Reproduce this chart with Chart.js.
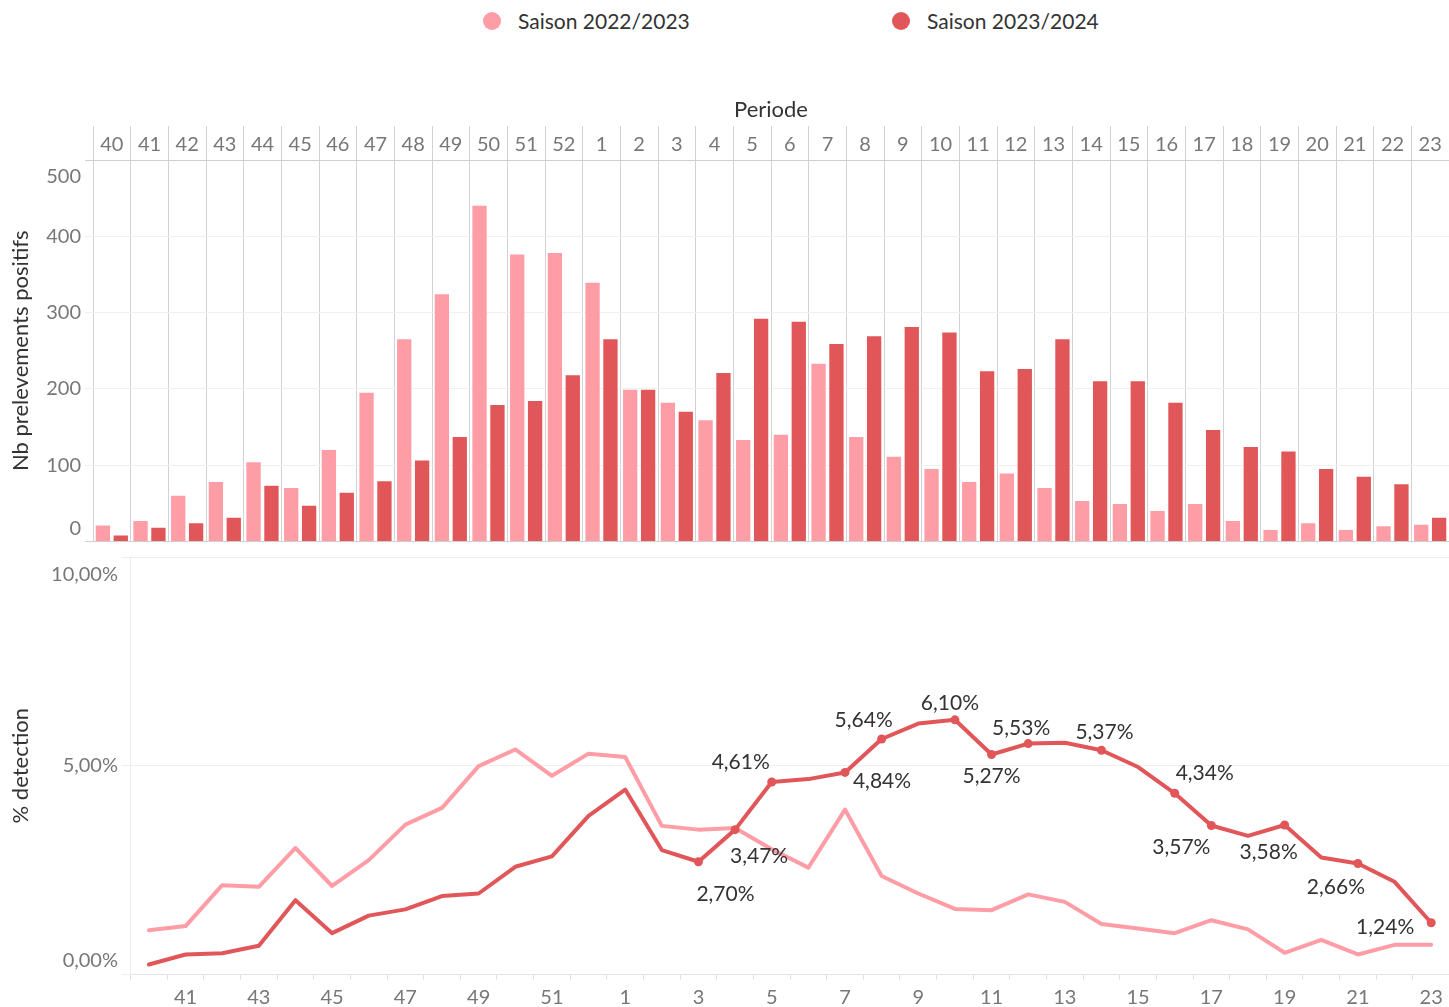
<!DOCTYPE html>
<html>
<head>
<meta charset="utf-8">
<script src="https://cdn.jsdelivr.net/npm/chart.js@4.4.1/dist/chart.umd.min.js"></script>
<style>
    body { margin: 0; width: 1449px; height: 1007px; overflow: hidden; background: #fff; font-family: Lato, sans-serif; position: relative; }
    #legende { position: absolute; top: 0; left: 0; width: 1449px; height: 44px; }
    .item { position: absolute; top: 8px; display: flex; align-items: center; font-size: 21px; color: #333; }
    .rond { width: 18px; height: 18px; border-radius: 50%; margin-right: 17px; }
    #barres { position: absolute; left: 0; top: 90px; }
    #lignes { position: absolute; left: 0; top: 512px; }
</style>
</head>
<body>
<div id="legende"></div>
<canvas id="barres" width="1449" height="492"></canvas>
<canvas id="lignes" width="1454" height="495"></canvas>
<script>
// Semaines (periodes)
const periodes = ['40','41','42','43','44','45','46','47','48','49','50','51','52',
    '1','2','3','4','5','6','7','8','9','10','11','12','13','14','15','16','17','18','19','20','21','22','23'];

const saisons = ['Saison 2022/2023', 'Saison 2023/2024'];
const couleurs = ['#ff9da7', '#e15759'];

// Nb prelevements positifs
const positifs2223 = [21, 27, 60, 78, 104, 70, 120, 195, 265, 324, 440, 376, 378,
    339, 199, 182, 159, 133, 140, 233, 137, 111, 95, 78, 89, 70, 53, 49, 40, 49, 27, 15, 24, 15, 20, 22];
const positifs2324 = [8, 18, 24, 31, 73, 47, 64, 79, 106, 137, 179, 184, 218,
    265, 199, 170, 221, 292, 288, 259, 269, 281, 274, 223, 226, 265, 210, 210, 182, 146, 124, 118, 95, 85, 75, 31];

// % detection
const detection2223 = [1.06, 1.16, 2.14, 2.10, 3.03, 2.12, 2.74, 3.59, 3.99, 4.99, 5.39, 4.76, 5.29,
    5.21, 3.56, 3.47, 3.51, 3.00, 2.56, 3.95, 2.36, 1.94, 1.57, 1.54, 1.92, 1.74, 1.21, 1.10, 0.99, 1.30, 1.08, 0.52, 0.83, 0.48, 0.71, 0.71];
const detection2324 = [0.24, 0.48, 0.51, 0.69, 1.78, 0.99, 1.41, 1.56, 1.88, 1.94, 2.58, 2.83, 3.80,
    4.43, 2.98, 2.70, 3.47, 4.61, 4.68, 4.84, 5.64, 6.01, 6.10, 5.27, 5.53, 5.55, 5.37, 4.97, 4.34, 3.57, 3.32, 3.58, 2.80, 2.66, 2.22, 1.24];

const ticksBarres = [0, 100, 200, 300, 400, 500];
const ticksLignes = [0, 5, 10];

// position des etiquettes (decalage par rapport au point, en px)
const decalages = {
    15: [27, 32], 16: [24, 27], 17: [-31, -20], 19: [37, 9], 20: [-18, -19], 22: [-5, -17],
    23: [0, 22], 24: [-7, -15], 26: [3, -18], 28: [30, -20], 29: [-30, 22], 31: [-16, 27],
    33: [-22, 24], 35: [-46, 5]
};

const gris = '#777';
const police = 'Lato';

function formatPct(v) {
    return v.toFixed(2).replace('.', ',') + '%';
}

// Legende
const legende = document.getElementById('legende');
const positionsLegende = [483, 892];
saisons.forEach((s, i) => {
    const div = document.createElement('div');
    div.className = 'item';
    div.style.left = positionsLegende[i] + 'px';
    div.innerHTML = '<span class="rond" style="background:' + couleurs[i] + '"></span>' + s;
    legende.appendChild(div);
});

// Graphique barres
new Chart(document.getElementById('barres'), {
    type: 'bar',
    data: {
        labels: periodes,
        datasets: [
            { label: saisons[0], data: positifs2223, backgroundColor: couleurs[0], categoryPercentage: 0.95, barPercentage: 0.8 },
            { label: saisons[1], data: positifs2324, backgroundColor: couleurs[1], categoryPercentage: 0.95, barPercentage: 0.8 }
        ]
    },
    options: {
        responsive: false,
        animation: false,
        layout: { padding: { top: 0, left: 0, right: 0, bottom: 40.5 } },
        plugins: { legend: { display: false }, tooltip: { enabled: false } },
        scales: {
            x: {
                position: 'top',
                offset: true,
                grid: { offset: true, color: '#d2d2d2', tickLength: 34 },
                border: { display: false },
                ticks: { color: gris, font: { family: police, size: 20 }, padding: -31, autoSkip: false, maxRotation: 0 },
                title: { display: true, text: 'Periode', color: '#333', font: { family: police, size: 22 }, padding: { top: 7 } },
                afterFit: s => { s.height = 70; s.paddingLeft = 0; s.paddingRight = 0; }
            },
            y: {
                min: 0,
                max: 500,
                afterBuildTicks: s => { s.ticks = ticksBarres.map(v => ({ value: v })); },
                ticks: {
                    color: gris,
                    padding: 4,
                    font: c => ({ family: police, size: 20,
                        lineHeight: c.tick && c.tick.value === 500 ? '34px' : (c.tick && c.tick.value === 0 ? '26px' : 1.2) }),
                    callback: v => v === 500 ? ['', '500'] : (v === 0 ? ['0', ''] : String(v))
                },
                grid: { color: c => (c.tick && (c.tick.value === 0 || c.tick.value === 500)) ? '#cfcfcf' : '#f0f0f0', tickLength: 8 },
                border: { display: false },
                title: { display: true, text: 'Nb prelevements positifs', color: '#333', font: { family: police, size: 22 }, padding: { top: 8 } },
                afterFit: s => { s.width = 93; }
            }
        }
    }
});

// Etiquettes sur la courbe 2023/2024
const etiquettes = {
    id: 'etiquettes',
    afterDatasetsDraw(chart) {
        const meta = chart.getDatasetMeta(1);
        const ctx = chart.ctx;
        ctx.save();
        ctx.font = '21px ' + police;
        ctx.fillStyle = '#333';
        ctx.textAlign = 'center';
        ctx.textBaseline = 'middle';
        Object.keys(decalages).forEach(k => {
            const p = meta.data[k];
            const d = decalages[k];
            ctx.fillText(formatPct(detection2324[k]), p.x + d[0], p.y + d[1]);
        });
        ctx.restore();
    }
};

// Graphique lignes
new Chart(document.getElementById('lignes'), {
    type: 'line',
    data: {
        labels: periodes,
        datasets: [
            { label: saisons[0], data: detection2223, borderColor: couleurs[0], backgroundColor: couleurs[0],
              borderWidth: 4, pointRadius: 0, tension: 0, borderJoinStyle: 'round', borderCapStyle: 'round', order: 2 },
            { label: saisons[1], data: detection2324, borderColor: couleurs[1], backgroundColor: couleurs[1],
              borderWidth: 4, tension: 0, borderJoinStyle: 'round', borderCapStyle: 'round', order: 1,
              pointRadius: c => (decalages[c.dataIndex] ? 4.5 : 0), pointBorderWidth: 0 }
        ]
    },
    plugins: [etiquettes],
    options: {
        responsive: false,
        animation: false,
        layout: { padding: { top: 45, left: 0, right: 0, bottom: 0 } },
        plugins: { legend: { display: false }, tooltip: { enabled: false } },
        scales: {
            x: {
                offset: true,
                grid: { offset: true, drawOnChartArea: false, tickLength: 5, color: '#dedede' },
                border: { display: true, color: '#e4e4e4', dash: [3, 2] },
                ticks: { color: gris, font: { family: police, size: 20 }, padding: 6, autoSkip: false, maxRotation: 0,
                    callback: (v, i) => (i % 2 === 1 ? periodes[i] : '') },
                afterFit: s => { s.height = 32.5; s.paddingLeft = 0; s.paddingRight = 0; }
            },
            y: {
                min: 0,
                max: 10,
                afterBuildTicks: s => { s.ticks = ticksLignes.map(v => ({ value: v })); },
                ticks: {
                    color: gris,
                    padding: 3.6,
                    font: c => ({ family: police, size: 20,
                        lineHeight: c.tick && c.tick.value === 10 ? '36px' : (c.tick && c.tick.value === 0 ? '27px' : 1.2) }),
                    callback: v => v === 10 ? ['', formatPct(v)] : (v === 0 ? [formatPct(v), ''] : formatPct(v))
                },
                grid: { color: '#efefef', tickLength: 9 },
                border: { display: true, color: '#ececec' },
                title: { display: true, text: '% detection', color: '#333', font: { family: police, size: 22 }, padding: { top: 8 } },
                afterFit: s => { s.width = 130.6; }
            }
        }
    }
});
</script>
</body>
</html>
